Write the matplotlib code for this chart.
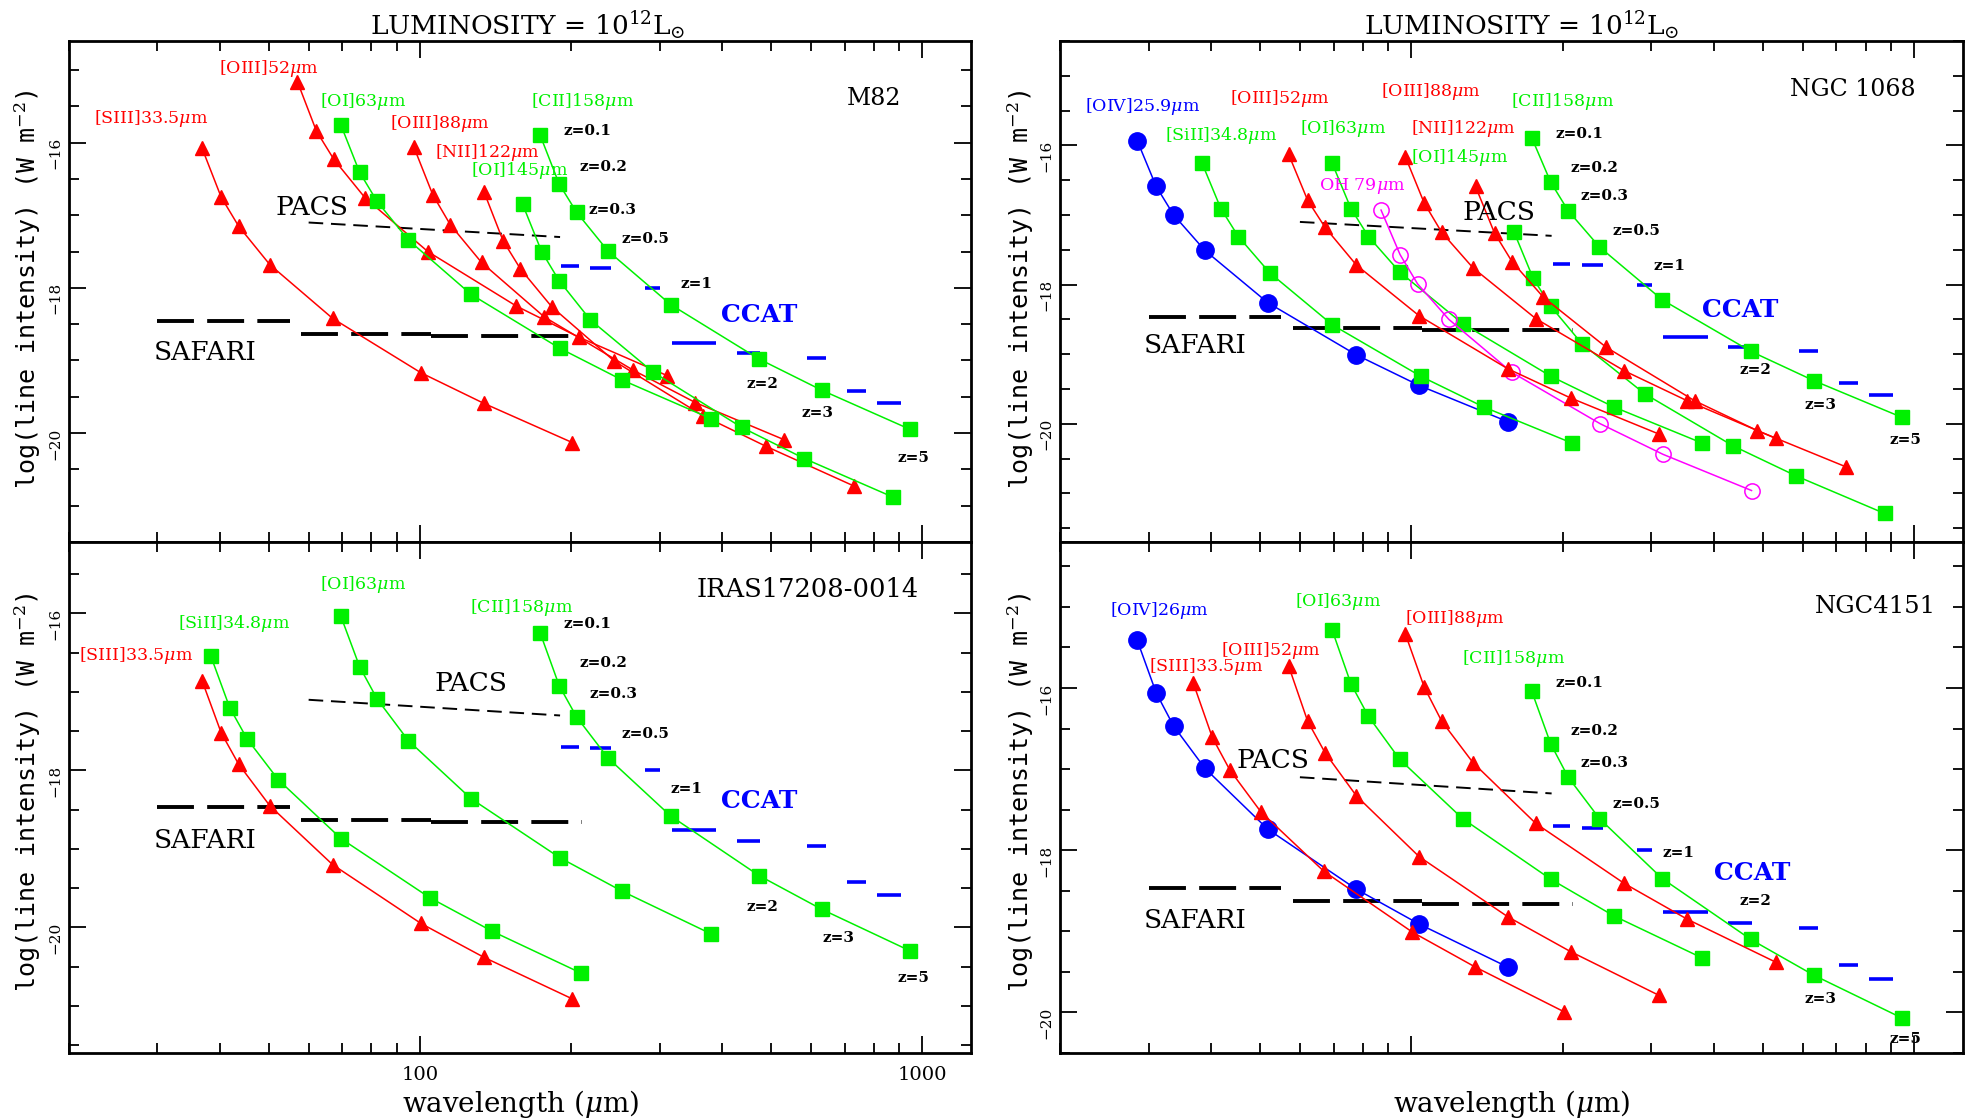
import matplotlib
matplotlib.use('Agg')
import matplotlib.pyplot as plt
from matplotlib.ticker import LogLocator, NullFormatter, MultipleLocator, FixedLocator, FixedFormatter

plt.rcParams['font.family'] = 'DejaVu Serif'
plt.rcParams['mathtext.fontset'] = 'dejavuserif'

# redshifts of the points on every line
redshifts = [0.1, 0.2, 0.3, 0.5, 1, 2, 3, 5]

# rest wavelengths (micron)
rest_oiv = 25.89
rest_siii = 33.48
rest_siii34 = 34.82
rest_oiii52 = 51.81
rest_oi63 = 63.18
rest_oh79 = 79.1
rest_oiii88 = 88.36
rest_nii122 = 121.9
rest_oi145 = 145.5
rest_cii158 = 157.7

# M82 -- log line intensity (W m^-2)
m82_siii = [-16.08, -16.75, -17.15, -17.68, -18.42, -19.17, -19.59, -20.13]
m82_oiii52 = [-15.16, -15.84, -16.23, -16.76, -17.50, -18.25, -18.68, -19.21]
m82_oi63 = [-15.75, -16.41, -16.81, -17.34, -18.09, -18.83, -19.27, -19.80]
m82_oiii88 = [-16.06, -16.72, -17.13, -17.65, -18.40, -19.13, -19.58, -20.09]
m82_nii122 = [-16.68, -17.35, -17.74, -18.26, -19.01, -19.76, -20.18, -20.73]
m82_oi145 = [-16.85, -17.50, -17.90, -18.44, -19.16, -19.92, -20.35, -20.88]
m82_cii158 = [-15.90, -16.57, -16.96, -17.49, -18.23, -18.98, -19.41, -19.95]

# NGC 1068
n1068_oiv = [-15.93, -16.59, -17.00, -17.51, -18.26, -19.01, -19.45, -19.97]
n1068_siii34 = [-16.25, -16.91, -17.31, -17.83, -18.58, -19.32, -19.76, -20.28]
n1068_oiii52 = [-16.13, -16.79, -17.18, -17.72, -18.45, -19.21, -19.63, -20.15]
n1068_oi63 = [-16.25, -16.91, -17.31, -17.82, -18.56, -19.32, -19.76, -20.28]
n1068_oh79 = [-16.93, -17.57, -17.99, -18.50, -19.26, -20.00, -20.44, -20.96]
n1068_oiii88 = [-16.16, -16.83, -17.25, -17.76, -18.49, -19.24, -19.67, -20.21]
n1068_nii122 = [-16.59, -17.26, -17.67, -18.18, -18.90, -19.67, -20.10, -20.62]
n1068_oi145 = [-17.25, -17.91, -18.31, -18.85, -19.57, -20.32, -20.75, -21.29]
n1068_cii158 = [-15.89, -16.53, -16.94, -17.46, -18.22, -18.96, -19.38, -19.91]

# IRAS17208-0014
iras_siii = [-16.86, -17.52, -17.92, -18.45, -19.20, -19.95, -20.38, -20.91]
iras_siii34 = [-16.54, -17.20, -17.60, -18.12, -18.87, -19.62, -20.05, -20.58]
iras_oi63 = [-16.03, -16.68, -17.09, -17.62, -18.36, -19.11, -19.54, -20.08]
iras_cii158 = [-16.25, -16.92, -17.32, -17.84, -18.58, -19.34, -19.77, -20.30]

# NGC4151
n4151_oiv = [-15.41, -16.06, -16.47, -16.99, -17.74, -18.48, -18.91, -19.44]
n4151_siii = [-15.94, -16.61, -17.01, -17.53, -18.26, -19.01, -19.44, -19.99]
n4151_oiii52 = [-15.73, -16.41, -16.80, -17.33, -18.08, -18.82, -19.25, -19.79]
n4151_oi63 = [-15.28, -15.95, -16.35, -16.88, -17.61, -18.36, -18.81, -19.33]
n4151_oiii88 = [-15.33, -15.99, -16.41, -16.92, -17.67, -18.41, -18.85, -19.38]
n4151_cii158 = [-16.04, -16.69, -17.10, -17.61, -18.35, -19.10, -19.54, -20.07]

# instrument sensitivities
pacs_wl = [60, 190]
pacs_lim = [-17.10, -17.30]
safari_lo = [30, 58, 105]
safari_hi = [55, 105, 210]
safari_lim = [-18.46, -18.63, -18.66]
ccat_lo = [191, 218, 281, 317, 427, 590, 708, 814]
ccat_hi = [207, 240, 301, 388, 476, 644, 774, 908]
ccat_lim = [-17.70, -17.72, -18.00, -18.76, -18.90, -18.96, -19.42, -19.59]

z_labels = ['z=0.1', 'z=0.2', 'z=0.3', 'z=0.5', 'z=1', 'z=2', 'z=3', 'z=5']


def obs(rest):
    return [rest * (1 + z) for z in redshifts]


W, H = 1966, 1120
fig = plt.figure(figsize=(W / 100, H / 100), dpi=100)


def rect(x0, x1, y0, y1):
    return [x0 / W, 1 - y1 / H, (x1 - x0) / W, (y1 - y0) / H]


def setup(ax, ylim, xlabels=False):
    ax.set_xscale('log')
    ax.set_xlim(20, 1250)
    ax.set_ylim(*ylim)
    ax.xaxis.set_major_locator(FixedLocator([100, 1000]))
    ax.xaxis.set_minor_locator(LogLocator(base=10, subs=[2, 3, 4, 5, 6, 7, 8, 9]))
    ax.xaxis.set_minor_formatter(NullFormatter())
    if xlabels:
        ax.xaxis.set_major_formatter(FixedFormatter(['100', '1000']))
    else:
        ax.xaxis.set_major_formatter(NullFormatter())
    ax.yaxis.set_major_locator(MultipleLocator(2))
    ax.yaxis.set_minor_locator(MultipleLocator(0.5))
    ax.tick_params(which='both', direction='in', top=True, right=True, width=1.3)
    ax.tick_params(which='major', length=12)
    ax.tick_params(which='minor', length=7)
    ax.tick_params(axis='y', labelrotation=90, labelsize=11, pad=5)
    ax.tick_params(axis='x', labelsize=14, pad=9)
    for s in ax.spines.values():
        s.set_linewidth(2)


def line(ax, rest, vals, color, marker):
    if marker == 's':
        ax.plot(obs(rest), vals, color=color, lw=1.1, marker='s', ms=9.5, mec=color, mfc=color)
    elif marker == '^':
        ax.plot(obs(rest), vals, color=color, lw=1.1, marker='^', ms=10.5, mec=color, mfc=color)
    elif marker == 'o':
        ax.plot(obs(rest), vals, color=color, lw=1.1, marker='o', ms=12.5, mec=color, mfc=color)
    else:
        ax.plot(obs(rest), vals, color=color, lw=1.1, marker='o', ms=11, mec=color, mfc='none', mew=1.1)


def instruments(ax):
    ax.plot(pacs_wl, pacs_lim, color='black', lw=1.4, dashes=(7.5, 4))
    for lo, hi, v in zip(safari_lo, safari_hi, safari_lim):
        ax.plot([lo, hi], [v, v], color='black', lw=2.8, dashes=(9.5, 3.4))
    for lo, hi, v in zip(ccat_lo, ccat_hi, ccat_lim):
        ax.plot([lo, hi], [v, v], color='#0000ff', lw=2.6, solid_capstyle='butt')


def label(ax, x, y, s, color, size=12.5):
    ax.text(x, y, s, color=color, fontsize=size, ha='left', va='center')


def zlab(ax, xs, ys):
    for s, x, y in zip(z_labels, xs, ys):
        ax.text(x, y, s, fontsize=11, fontweight='bold', ha='left', va='center')


def names(ax, ccat_xy, pacs_xy, safari_xy):
    ax.text(*ccat_xy, 'CCAT', color=BLUE, fontsize=18, fontweight='bold', ha='left', va='center')
    ax.text(*pacs_xy, 'PACS', fontsize=19, ha='left', va='center')
    ax.text(*safari_xy, 'SAFARI', fontsize=19, ha='left', va='center')


RED, GREEN, BLUE, MAG = '#ff0000', '#00f000', '#0000ff', '#ff00ff'
mu = r'$\mu$m'

# ---------------- M82 (top left)
ax1 = fig.add_axes(rect(69, 971, 41, 542))
setup(ax1, (-21.5, -14.6))
instruments(ax1)
line(ax1, rest_siii, m82_siii, RED, '^')
line(ax1, rest_oiii52, m82_oiii52, RED, '^')
line(ax1, rest_oiii88, m82_oiii88, RED, '^')
line(ax1, rest_nii122, m82_nii122, RED, '^')
line(ax1, rest_oi63, m82_oi63, GREEN, 's')
line(ax1, rest_oi145, m82_oi145, GREEN, 's')
line(ax1, rest_cii158, m82_cii158, GREEN, 's')
label(ax1, 22.4, -15.67, '[SIII]33.5' + mu, RED)
label(ax1, 39.8, -14.98, '[OIII]52' + mu, RED)
label(ax1, 63.1, -15.44, '[OI]63' + mu, GREEN)
label(ax1, 87.0, -15.74, '[OIII]88' + mu, RED)
label(ax1, 107.2, -16.13, '[NII]122' + mu, RED)
label(ax1, 126.1, -16.39, '[OI]145' + mu, GREEN)
label(ax1, 166.4, -15.44, '[CII]158' + mu, GREEN)
zlab(ax1, [193, 207.6, 216.8, 252, 330, 447, 575, 891],
     [-15.84, -16.33, -16.93, -17.33, -17.94, -19.33, -19.73, -20.34])
names(ax1, (398, -18.38), (51.5, -16.89), (29.5, -18.89))
ax1.text(708, -15.39, 'M82', fontsize=17, ha='left', va='center')

# ---------------- NGC 1068 (top right)
ax2 = fig.add_axes(rect(1060, 1963, 41, 542))
setup(ax2, (-21.7, -14.5))
instruments(ax2)
line(ax2, rest_oiv, n1068_oiv, BLUE, 'o')
line(ax2, rest_siii34, n1068_siii34, GREEN, 's')
line(ax2, rest_oi63, n1068_oi63, GREEN, 's')
line(ax2, rest_oi145, n1068_oi145, GREEN, 's')
line(ax2, rest_cii158, n1068_cii158, GREEN, 's')
line(ax2, rest_oh79, n1068_oh79, MAG, 'open')
line(ax2, rest_oiii52, n1068_oiii52, RED, '^')
line(ax2, rest_oiii88, n1068_oiii88, RED, '^')
line(ax2, rest_nii122, n1068_nii122, RED, '^')
label(ax2, 22.4, -15.44, '[OIV]25.9' + mu, BLUE)
label(ax2, 32.3, -15.86, '[SiII]34.8' + mu, GREEN)
label(ax2, 43.6, -15.33, '[OIII]52' + mu, RED)
label(ax2, 60.1, -15.76, '[OI]63' + mu, GREEN)
label(ax2, 65.5, -16.58, 'OH 79' + mu, MAG)
label(ax2, 86.9, -15.23, '[OIII]88' + mu, RED)
label(ax2, 100, -15.76, '[NII]122' + mu, RED)
label(ax2, 100, -16.17, '[OI]145' + mu, GREEN)
label(ax2, 158, -15.37, '[CII]158' + mu, GREEN)
zlab(ax2, [193, 207, 217, 251, 303, 449, 606, 894],
     [-15.84, -16.33, -16.73, -17.23, -17.73, -19.23, -19.73, -20.23])
names(ax2, (379, -18.37), (126.5, -16.96), (29.4, -18.87))
ax2.text(565, -15.19, 'NGC 1068', fontsize=17, ha='left', va='center')

# ---------------- IRAS17208-0014 (bottom left)
ax3 = fig.add_axes(rect(69, 971, 542, 1053))
setup(ax3, (-21.6, -15.09), xlabels=True)
instruments(ax3)
line(ax3, rest_siii, iras_siii, RED, '^')
line(ax3, rest_siii34, iras_siii34, GREEN, 's')
line(ax3, rest_oi63, iras_oi63, GREEN, 's')
line(ax3, rest_cii158, iras_cii158, GREEN, 's')
label(ax3, 20.9, -16.53, '[SIII]33.5' + mu, RED)
label(ax3, 33.0, -16.13, '[SiII]34.8' + mu, GREEN)
label(ax3, 63.1, -15.63, '[OI]63' + mu, GREEN)
label(ax3, 126, -15.92, '[CII]158' + mu, GREEN)
zlab(ax3, [193, 207.6, 217, 252, 315.6, 447, 632, 891],
     [-16.13, -16.63, -17.03, -17.53, -18.24, -19.74, -20.14, -20.64])
names(ax3, (398, -18.39), (107, -16.89), (29.5, -18.89))
ax3.text(355, -15.70, 'IRAS17208-0014', fontsize=18.5, ha='left', va='center')

# ---------------- NGC4151 (bottom right)
ax4 = fig.add_axes(rect(1060, 1963, 542, 1053))
setup(ax4, (-20.5, -14.2))
instruments(ax4)
line(ax4, rest_oiv, n4151_oiv, BLUE, 'o')
line(ax4, rest_oi63, n4151_oi63, GREEN, 's')
line(ax4, rest_cii158, n4151_cii158, GREEN, 's')
line(ax4, rest_siii, n4151_siii, RED, '^')
line(ax4, rest_oiii52, n4151_oiii52, RED, '^')
line(ax4, rest_oiii88, n4151_oiii88, RED, '^')
label(ax4, 25.1, -15.04, '[OIV]26' + mu, BLUE)
label(ax4, 30.1, -15.74, '[SIII]33.5' + mu, RED)
label(ax4, 41.8, -15.54, '[OIII]52' + mu, RED)
label(ax4, 58.7, -14.93, '[OI]63' + mu, GREEN)
label(ax4, 96.9, -15.14, '[OIII]88' + mu, RED)
label(ax4, 126.2, -15.64, '[CII]158' + mu, GREEN)
zlab(ax4, [193, 207, 217, 251, 316, 449, 606, 894],
     [-15.94, -16.53, -16.93, -17.43, -18.03, -18.62, -19.83, -20.33])
names(ax4, (400, -18.28), (44.9, -16.89), (29.4, -18.87))
ax4.text(634, -15.0, 'NGC4151', fontsize=17.5, ha='left', va='center')

# titles and axis labels
title = r'LUMINOSITY = 10$^{12}$L$_{\odot}$'
fig.text(528 / W, 1 - 35 / H, title, fontsize=19, ha='center', va='baseline')
fig.text(1522 / W, 1 - 35 / H, title, fontsize=19, ha='center', va='baseline')

ylab = r'log(line intensity) (W m$^{-2}$)'
for xc, yc in [(28, 289), (28, 792), (1021, 289), (1021, 792)]:
    fig.text(xc / W, 1 - yc / H, ylab, fontsize=18, family='DejaVu Sans Mono',
             rotation=90, ha='center', va='center')

fig.text(520 / W, 1 - 1104 / H, r'wavelength ($\mu$m)', fontsize=20, ha='center', va='center')
fig.text(1511 / W, 1 - 1104 / H, r'wavelength ($\mu$m)', fontsize=20, ha='center', va='center')

fig.savefig('out.png', dpi=100)
